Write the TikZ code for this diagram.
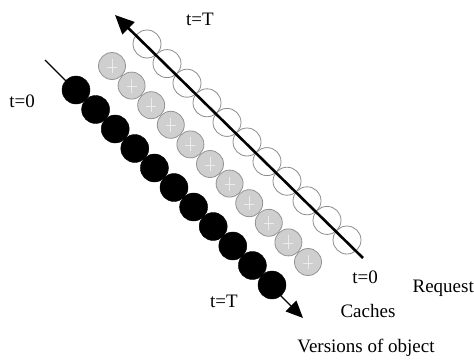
\documentclass[tikz,border=0pt]{standalone}
\usepackage{fontspec}
\setmainfont{Liberation Serif}
\usetikzlibrary{arrows.meta}

\begin{document}
\begin{tikzpicture}[
    x=1pt, y=-1pt,
    version/.style={draw=black, circle, fill=black, minimum size=28pt, inner sep=0pt},
    cache/.style={draw=gray!85, circle, fill=gray!38, minimum size=27pt, inner sep=0pt, thick,
        path picture={\draw[white!85!gray, line width=0.8pt] (path picture bounding box.center) +(0,-7) -- +(0,7) +(-5,1) -- +(5,1);}},
    request/.style={draw=gray!90, circle, fill=white, minimum size=28pt, inner sep=0pt, thick},
    every node/.style={font=\fontsize{19}{19}\selectfont}
]
    \useasboundingbox (0,0) rectangle (474,359);

    % ===============================
    % 1. VERSIONS OF OBJECT
    % ===============================
    \coordinate (vstart) at (45,60);
    \coordinate (vend) at (303,318);
    \node[version] (v0) at (76,90) {};
    \node[version] (v1) at (95.6,109.5) {};
    \node[version] (v2) at (115.2,129) {};
    \node[version] (v3) at (134.8,148.5) {};
    \node[version] (v4) at (154.4,168) {};
    \node[version] (v5) at (174,187.5) {};
    \node[version] (v6) at (193.6,207) {};
    \node[version] (v7) at (213.2,226.5) {};
    \node[version] (v8) at (232.8,246) {};
    \node[version] (v9) at (252.4,265.5) {};
    \node[version] (v10) at (272,285) {};
    \draw[line width=1.4pt, -{Triangle[length=17pt, width=15pt]}] (vstart) -- (vend);

    % ===============================
    % 2. CACHES
    % ===============================
    \node[cache] (c0) at (112,66) {};
    \node[cache] (c1) at (131.6,85.6) {};
    \node[cache] (c2) at (151.2,105.2) {};
    \node[cache] (c3) at (170.8,124.8) {};
    \node[cache] (c4) at (190.4,144.4) {};
    \node[cache] (c5) at (210,164) {};
    \node[cache] (c6) at (229.6,183.6) {};
    \node[cache] (c7) at (249.2,203.2) {};
    \node[cache] (c8) at (268.8,222.8) {};
    \node[cache] (c9) at (288.4,242.4) {};
    \node[cache] (c10) at (308,262) {};

    % ===============================
    % 3. REQUESTS
    % ===============================
    \coordinate (rstart) at (363,258);
    \coordinate (rend) at (115,15);
    \node[request] (r0) at (147,44) {};
    \node[request] (r1) at (167,63.6) {};
    \node[request] (r2) at (187,83.2) {};
    \node[request] (r3) at (207,102.8) {};
    \node[request] (r4) at (227,122.4) {};
    \node[request] (r5) at (247,142) {};
    \node[request] (r6) at (267,161.6) {};
    \node[request] (r7) at (287,181.2) {};
    \node[request] (r8) at (307,200.8) {};
    \node[request] (r9) at (327,220.4) {};
    \node[request] (r10) at (347,240) {};
    \draw[line width=2.6pt, -{Triangle[length=19pt, width=17pt]}] (rstart) -- (rend);

    % ===============================
    % 4. LABELS
    % ===============================
    \node (ttop) at (200,19) {t=T};
    \node (tzeroleft) at (22,101) {t=0};
    \node (tzeroright) at (365,277) {t=0};
    \node (tbottom) at (224,301) {t=T};
    \node[anchor=east, inner sep=0pt] (reqlabel) at (474,288) {Request};
    \node (cachelabel) at (368,311) {Caches};
    \node (verlabel) at (366,348) {Versions of object};

\end{tikzpicture}
\end{document}
